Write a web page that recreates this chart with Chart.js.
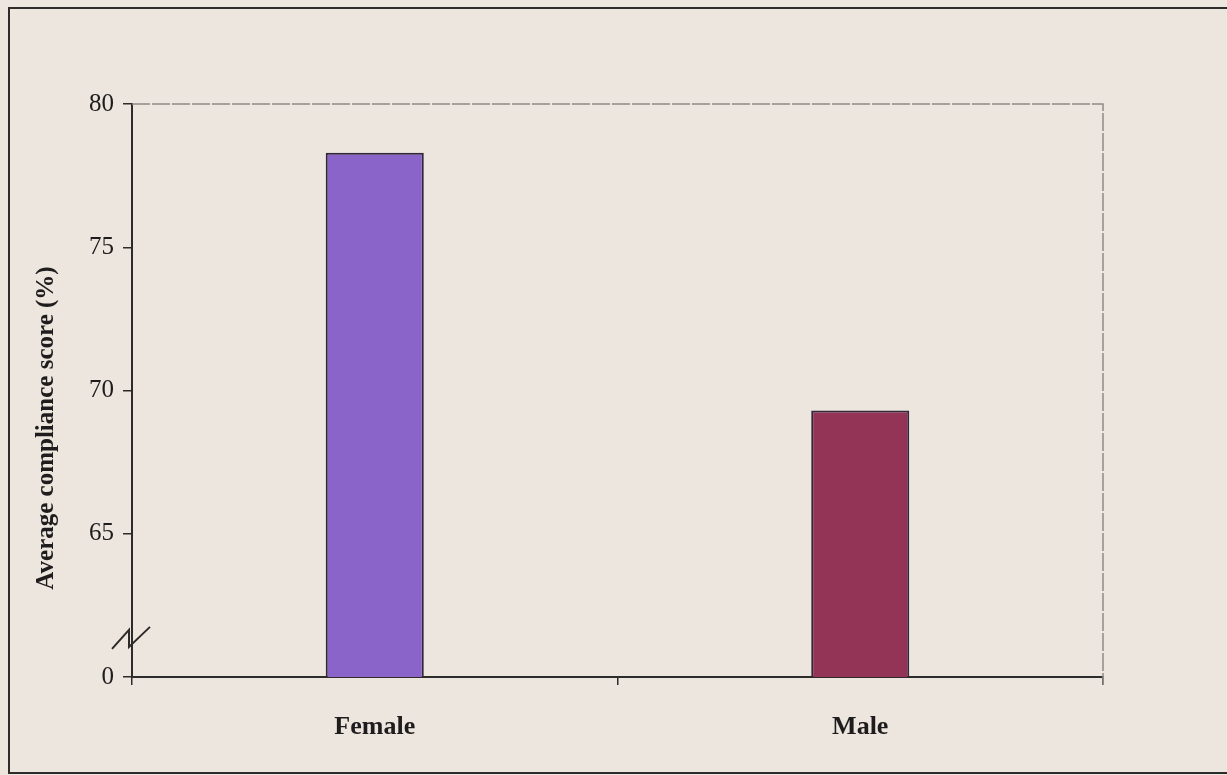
<!DOCTYPE html>
<html>
<head>
<meta charset="utf-8">
<script src="https://cdn.jsdelivr.net/npm/chart.js@4/dist/chart.umd.min.js"></script>
<style>
  html, body { margin: 0; padding: 0; background: #ede6de; }
  #wrap { position: relative; width: 1227px; height: 775px; }
</style>
</head>
<body>
<div id="wrap"><canvas id="c" width="1227" height="775"></canvas></div>
<script>
// Average compliance score by gender
const categories = ['Female', 'Male'];
const scores = [78.3, 69.3];
const barColors = ['#8a64c9', '#933456'];
const yTicks = [60, 65, 70, 75, 80];
const yBreakLabel = '0';      // the axis is broken: the lowest tick stands for zero
const yTitle = 'Average compliance score (%)';

const SERIF = '"Liberation Serif", "Times New Roman", serif';

// page frame, plot box (top/right), axis title and the axis break mark
const decor = {
  id: 'decor',
  beforeDraw(chart) {
    const { ctx } = chart;
    ctx.save();
    ctx.fillStyle = '#ede6de';
    ctx.fillRect(0, 0, chart.width, chart.height);
    ctx.strokeStyle = '#2e2b2b';
    ctx.lineWidth = 2;
    ctx.beginPath();
    ctx.moveTo(9, 774);
    ctx.lineTo(9, 8);
    ctx.lineTo(chart.width, 8);
    ctx.stroke();
    ctx.beginPath();
    ctx.moveTo(9, 773);
    ctx.lineTo(chart.width, 773);
    ctx.stroke();
    ctx.restore();
  },
  afterDraw(chart) {
    const { ctx, chartArea: a, scales } = chart;
    const y = scales.y;
    ctx.save();
    // thin grey box on top and right
    ctx.strokeStyle = '#8f8b88';
    ctx.lineWidth = 1.5;
    ctx.setLineDash([18, 2]);
    ctx.beginPath();
    ctx.moveTo(a.left, a.top);
    ctx.lineTo(a.right, a.top);
    ctx.lineTo(a.right, a.bottom + 8);
    ctx.stroke();
    ctx.setLineDash([]);
    // axis break zigzag
    const yb = y.getPixelForValue(61.4);
    ctx.strokeStyle = '#2e2b2b';
    ctx.lineWidth = 2;
    ctx.beginPath();
    ctx.moveTo(a.left - 20, yb + 12);
    ctx.lineTo(a.left - 3, yb - 7);
    ctx.lineTo(a.left - 3, yb + 10);
    ctx.lineTo(a.left + 18, yb - 10);
    ctx.stroke();
    // rotated y axis title
    ctx.translate(47, 428);
    ctx.rotate(-Math.PI / 2);
    ctx.fillStyle = '#1e1c1c';
    ctx.font = 'bold 25px ' + SERIF;
    ctx.textAlign = 'center';
    ctx.textBaseline = 'middle';
    ctx.fillText(yTitle, 0, 0);
    ctx.restore();
  }
};

new Chart(document.getElementById('c'), {
  type: 'bar',
  data: {
    labels: categories,
    datasets: [{
      data: scores,
      backgroundColor: barColors,
      borderColor: '#2f2838',
      borderWidth: 2,
      barPercentage: 0.202,
      categoryPercentage: 1.0
    }]
  },
  options: {
    responsive: false,
    animation: false,
    devicePixelRatio: 1,
    layout: { padding: { top: 104, right: 124, bottom: 0, left: 0 } },
    plugins: { legend: { display: false }, tooltip: { enabled: false } },
    scales: {
      x: {
        offset: true,
        grid: { offset: true, drawOnChartArea: false, tickLength: 8, color: '#2e2b2b', lineWidth: 1.5 },
        border: { color: '#2e2b2b', width: 2 },
        ticks: { color: '#1e1c1c', padding: 27, font: { family: SERIF, size: 26, weight: 'bold' } },
        afterFit(s) { s.height = 98; }
      },
      y: {
        min: yTicks[0],
        max: yTicks[yTicks.length - 1],
        afterBuildTicks(s) { s.ticks = yTicks.map(v => ({ value: v })); },
        grid: { drawOnChartArea: false, tickLength: 9, color: '#2e2b2b', lineWidth: 1.5 },
        border: { color: '#2e2b2b', width: 2 },
        ticks: {
          color: '#1e1c1c',
          padding: 9,
          font: { family: SERIF, size: 25 },
          callback: v => (v === yTicks[0] ? yBreakLabel : String(v))
        },
        afterFit(s) { s.width = 132; }
      }
    }
  },
  plugins: [decor]
});
</script>
</body>
</html>
